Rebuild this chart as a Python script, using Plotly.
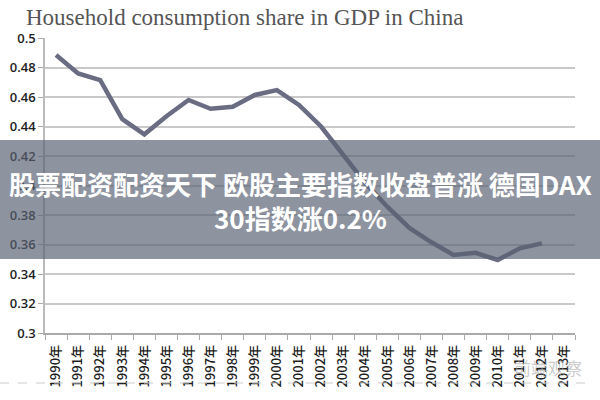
import plotly.graph_objects as go

years = [f"{y}年" for y in range(1990, 2014)]
share = [0.4885, 0.476, 0.4715, 0.445, 0.4347, 0.447, 0.458, 0.452, 0.4534, 0.4614,
         0.4647, 0.4546, 0.440, 0.4207, 0.4017, 0.3856, 0.3712, 0.3615, 0.3529, 0.3544,
         0.3495, 0.3574, 0.3608, None]
ytick_vals = [0.3, 0.32, 0.34, 0.36, 0.38, 0.4, 0.42, 0.44, 0.46, 0.48, 0.5]
ytick_text = ["0.3", "0.32", "0.34", "0.36", "0.38", "0.4", "0.42", "0.44", "0.46", "0.48", "0.5"]
title_text = "Household consumption share in GDP in China"
banner_line1 = "股票配资配资天下 欧股主要指数收盘普涨 德国DAX"
banner_line2 = "30指数涨0.2%"

W, H = 600, 400
ml, mr, mt, mb = 45, 25, 38, 67
pw, ph = W - ml - mr, H - mt - mb

def px(x):
    return (x - ml) / pw

def py(y):
    return (H - mb - y) / ph

fig = go.Figure()
fig.add_trace(go.Scatter(
    x=years, y=share, mode="lines",
    line=dict(color="#6a6d82", width=4.5),
    connectgaps=False, showlegend=False, hoverinfo="skip",
))

fig.update_layout(
    width=W, height=H,
    margin=dict(l=ml, r=mr, t=mt, b=mb),
    paper_bgcolor="white", plot_bgcolor="white",
    showlegend=False,
    xaxis=dict(
        type="category", range=[-0.5, 23.5],
        tickangle=-90, tickson="boundaries",
        ticks="outside", ticklen=5, tickcolor="#aaaaaa",
        showline=True, linecolor="#aaaaaa", linewidth=1.5,
        showgrid=False, automargin=False, ticklabelstandoff=5,
        tickfont=dict(family="Noto Sans CJK SC", size=13, color="#1e1e1e", weight=500),
    ),
    yaxis=dict(
        range=[0.3, 0.5], tickvals=ytick_vals, ticktext=ytick_text,
        ticks="outside", ticklen=5, tickcolor="#aaaaaa",
        showline=True, linecolor="#bbbbbb", linewidth=1.5,
        showgrid=True, gridcolor="#c9c9c9", gridwidth=1.5,
        zeroline=False, automargin=False,
        tickfont=dict(family="Open Sans", size=13, color="#1e1e1e", weight=600),
    ),
    shapes=[
        dict(type="rect", xref="paper", yref="paper",
             x0=px(0), x1=px(W), y0=py(259), y1=py(140),
             fillcolor="rgba(88,98,114,0.68)", line=dict(width=0), layer="above"),
        dict(type="line", xref="paper", yref="paper",
             x0=px(0), x1=px(590), y0=py(383), y1=py(383),
             line=dict(color="#cccccc", width=1, dash="dash")),
    ],
    annotations=[
        dict(text=title_text, xref="paper", yref="paper",
             x=px(24), y=py(17), xanchor="left", yanchor="middle", showarrow=False,
             font=dict(family="Liberation Serif", size=23, color="#555555")),
        dict(text=banner_line1, xref="paper", yref="paper",
             x=px(300), y=py(183), xanchor="center", yanchor="middle", showarrow=False,
             font=dict(family="Noto Sans CJK SC", size=26, color="white", weight="bold")),
        dict(text=banner_line2, xref="paper", yref="paper",
             x=px(300), y=py(218), xanchor="center", yanchor="middle", showarrow=False,
             font=dict(family="Noto Sans CJK SC", size=26, color="white", weight="bold")),
        dict(text="前端观察", xref="paper", yref="paper",
             x=px(548), y=py(367), xanchor="center", yanchor="middle", showarrow=False,
             font=dict(family="Noto Sans CJK SC", size=17, color="rgba(170,170,170,0.6)")),
    ],
)

fig.write_html("out.html", config={"displayModeBar": False},
               post_script="document.body.style.margin='0';document.body.style.overflow='hidden';")
